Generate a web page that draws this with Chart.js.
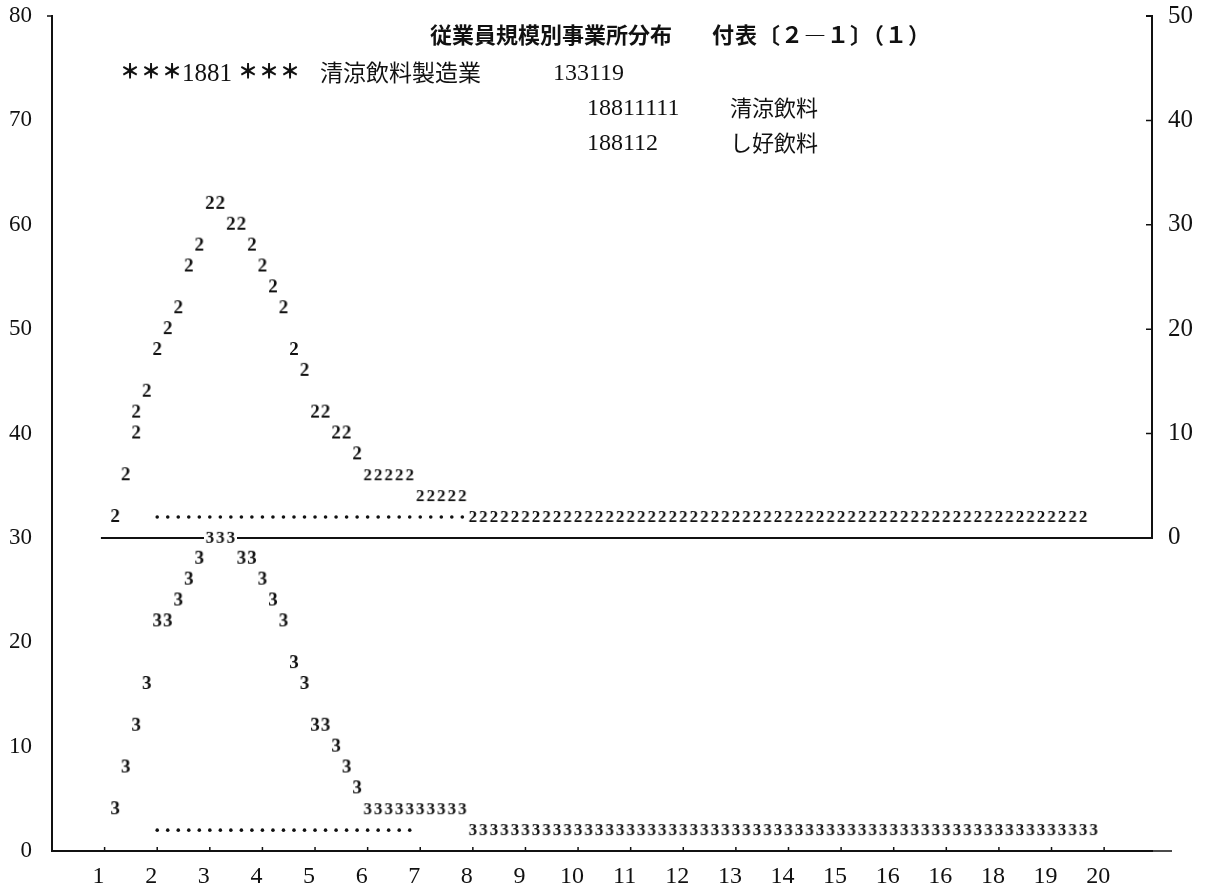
<!DOCTYPE html>
<html>
<head>
<meta charset="utf-8">
<script src="https://cdn.jsdelivr.net/npm/chart.js@4/dist/chart.umd.min.js"></script>
<style>
  html, body { margin: 0; padding: 0; background: #fff; }
  #wrap { position: relative; width: 1209px; height: 896px; overflow: hidden; }
  #c { position: absolute; left: 0; top: 0; }
  .t { position: absolute; white-space: nowrap; color: #111; line-height: 1; }
  .jp { font-family: "Noto Sans CJK JP", sans-serif; }
  .num { font-family: "Liberation Serif", serif; }
</style>
</head>
<body>
<div id="wrap">
  <canvas id="c" width="1209" height="896"></canvas>
  <div class="t jp" style="left:430px;top:22px;font-size:22px;font-weight:bold">従業員規模別事業所分布</div>
  <div class="t jp" style="left:712px;top:22px;font-size:22px;font-weight:bold;letter-spacing:1px">付表〔２―１〕（１）</div>
  <div class="t jp" style="left:120px;top:61px;font-size:20px;font-weight:900;letter-spacing:1px">＊＊＊</div>
  <div class="t num" style="left:182px;top:60px;font-size:25px">1881</div>
  <div class="t jp" style="left:238px;top:61px;font-size:20px;font-weight:900;letter-spacing:1px">＊＊＊</div>
  <div class="t jp" style="left:320px;top:60px;font-size:23px">清涼飲料製造業</div>
  <div class="t num" style="left:553px;top:60px;font-size:24px">133119</div>
  <div class="t num" style="left:587px;top:95px;font-size:24px">18811111</div>
  <div class="t jp" style="left:730px;top:95px;font-size:22px">清涼飲料</div>
  <div class="t num" style="left:587px;top:130px;font-size:24px">188112</div>
  <div class="t jp" style="left:730px;top:130px;font-size:22px">し好飲料</div>
</div>
<script>
// Size classes along the x axis (the seventeenth label is printed as "16")
const xTickLabels = ['1','2','3','4','5','6','7','8','9','10','11','12','13','14','15','16','16','18','19','20'];
const leftTicks = [0, 10, 20, 30, 40, 50, 60, 70, 80];
const rightTicks = [0, 10, 20, 30, 40, 50];

// Series "2" (upper curve), read on the right axis
const upperX = [1.2, 1.4, 1.6, 1.6, 1.8, 2.0, 2.2, 2.4, 2.6, 2.8, 3.0, 3.2, 3.4, 3.6, 3.8, 4.0, 4.2, 4.4, 4.6, 4.8,
                5.0, 5.2, 5.4, 5.6, 5.8, 6.0, 6.2, 6.4, 6.6, 6.8, 7.0, 7.2, 7.4, 7.6, 7.8];
const upperY = [2, 6, 10, 12, 14, 18, 20, 22, 26, 28, 32, 32, 30, 30, 28, 26, 24, 22, 18, 16,
                12, 12, 10, 10, 8, 6, 6, 6, 6, 6, 4, 4, 4, 4, 4];
const upperTailX = [8.0, 8.2, 8.4, 8.6, 8.8, 9.0, 9.2, 9.4, 9.6, 9.8, 10.0, 10.2, 10.4, 10.6, 10.8, 11.0, 11.2, 11.4, 11.6, 11.8,
                    12.0, 12.2, 12.4, 12.6, 12.8, 13.0, 13.2, 13.4, 13.6, 13.8, 14.0, 14.2, 14.4, 14.6, 14.8, 15.0, 15.2, 15.4, 15.6, 15.8,
                    16.0, 16.2, 16.4, 16.6, 16.8, 17.0, 17.2, 17.4, 17.6, 17.8, 18.0, 18.2, 18.4, 18.6, 18.8, 19.0, 19.2, 19.4, 19.6];
const upperTailY = [2, 2, 2, 2, 2, 2, 2, 2, 2, 2, 2, 2, 2, 2, 2, 2, 2, 2, 2, 2,
                    2, 2, 2, 2, 2, 2, 2, 2, 2, 2, 2, 2, 2, 2, 2, 2, 2, 2, 2, 2,
                    2, 2, 2, 2, 2, 2, 2, 2, 2, 2, 2, 2, 2, 2, 2, 2, 2, 2, 2];
const upperDotX = [2.0, 2.2, 2.4, 2.6, 2.8, 3.0, 3.2, 3.4, 3.6, 3.8, 4.0, 4.2, 4.4, 4.6, 4.8,
                   5.0, 5.2, 5.4, 5.6, 5.8, 6.0, 6.2, 6.4, 6.6, 6.8, 7.0, 7.2, 7.4, 7.6, 7.8];
const upperDotY = [2, 2, 2, 2, 2, 2, 2, 2, 2, 2, 2, 2, 2, 2, 2,
                   2, 2, 2, 2, 2, 2, 2, 2, 2, 2, 2, 2, 2, 2, 2];

// Series "3" (lower curve), read on the left axis
const lowerX = [1.2, 1.4, 1.6, 1.8, 2.0, 2.2, 2.4, 2.6, 2.8, 3.0, 3.2, 3.4, 3.6, 3.8, 4.0, 4.2, 4.4, 4.6, 4.8,
                5.0, 5.2, 5.4, 5.6, 5.8, 6.0, 6.2, 6.4, 6.6, 6.8, 7.0, 7.2, 7.4, 7.6, 7.8];
const lowerY = [4, 8, 12, 16, 22, 22, 24, 26, 28, 30, 30, 30, 28, 28, 26, 24, 22, 18, 16,
                12, 12, 10, 8, 6, 4, 4, 4, 4, 4, 4, 4, 4, 4, 4];
const lowerTailX = [8.0, 8.2, 8.4, 8.6, 8.8, 9.0, 9.2, 9.4, 9.6, 9.8, 10.0, 10.2, 10.4, 10.6, 10.8, 11.0, 11.2, 11.4, 11.6, 11.8,
                    12.0, 12.2, 12.4, 12.6, 12.8, 13.0, 13.2, 13.4, 13.6, 13.8, 14.0, 14.2, 14.4, 14.6, 14.8, 15.0, 15.2, 15.4, 15.6, 15.8,
                    16.0, 16.2, 16.4, 16.6, 16.8, 17.0, 17.2, 17.4, 17.6, 17.8, 18.0, 18.2, 18.4, 18.6, 18.8, 19.0, 19.2, 19.4, 19.6, 19.8];
const lowerTailY = [2, 2, 2, 2, 2, 2, 2, 2, 2, 2, 2, 2, 2, 2, 2, 2, 2, 2, 2, 2,
                    2, 2, 2, 2, 2, 2, 2, 2, 2, 2, 2, 2, 2, 2, 2, 2, 2, 2, 2, 2,
                    2, 2, 2, 2, 2, 2, 2, 2, 2, 2, 2, 2, 2, 2, 2, 2, 2, 2, 2, 2];
const lowerDotX = [2.0, 2.2, 2.4, 2.6, 2.8, 3.0, 3.2, 3.4, 3.6, 3.8, 4.0, 4.2, 4.4, 4.6, 4.8,
                   5.0, 5.2, 5.4, 5.6, 5.8, 6.0, 6.2, 6.4, 6.6, 6.8];
const lowerDotY = [2, 2, 2, 2, 2, 2, 2, 2, 2, 2, 2, 2, 2, 2, 2,
                   2, 2, 2, 2, 2, 2, 2, 2, 2, 2];

const INK = '#111';

// Printer-style character used as a point marker
function glyph(ch, weight, size) {
  const c = document.createElement('canvas');
  c.width = 12; c.height = 18;
  const g = c.getContext('2d');
  g.fillStyle = '#fff';
  g.fillRect(0, 0, c.width, c.height);
  g.fillStyle = INK;
  g.font = weight + ' ' + size + 'px "Liberation Serif"';
  g.textAlign = 'center';
  g.textBaseline = 'middle';
  g.fillText(ch, 6, 9.5);
  return c;
}
const two = glyph('2', 'bold', 19), twoRun = glyph('2', 'bold', 17);
const three = glyph('3', 'bold', 19), threeRun = glyph('3', 'bold', 17);

// horizontal runs of characters (from 6 upward, and the peak row of "3") print slightly smaller
const twoStyle = c => (c.raw && c.raw.x >= 6 ? twoRun : two);
const threeStyle = c => (c.raw && (c.raw.x >= 6 || c.raw.y === 30) ? threeRun : three);

const pts = (xs, ys) => xs.map((x, i) => ({ x: x, y: ys[i] }));

// y axes: keep the plot frame tight to the canvas edge (labels may overhang)
const fitY = w => s => { s.width = w; s.paddingTop = 0; s.paddingBottom = 0; };

// Axis frame pieces: zero line of the right axis, right axis segment, inward ticks
const framePlugin = {
  id: 'frame',
  beforeDatasetsDraw(chart) {
    const { ctx, scales: { x, y, yR } } = chart;
    ctx.save();
    ctx.strokeStyle = INK;
    ctx.lineWidth = 2;
    const r0 = yR.getPixelForValue(0);
    const rTop = yR.getPixelForValue(50);
    ctx.beginPath();
    ctx.moveTo(x.getPixelForValue(0.93), r0);
    ctx.lineTo(x.right, r0);
    ctx.lineTo(x.right, rTop);
    ctx.lineTo(x.right - 6, rTop);
    ctx.stroke();
    ctx.lineWidth = 1.5;
    ctx.beginPath();
    rightTicks.forEach(v => {
      if (v > 0 && v < 50) {
        const p = yR.getPixelForValue(v);
        ctx.moveTo(x.right - 6, p); ctx.lineTo(x.right, p);
      }
    });
    // x axis continues a little past the right axis
    ctx.moveTo(x.right, y.bottom); ctx.lineTo(x.right + 20, y.bottom);
    xTickLabels.forEach((_, i) => {
      const p = x.getPixelForValue(i + 1);
      ctx.moveTo(p, y.bottom); ctx.lineTo(p, y.bottom - 4);
    });
    // short cap at the top of the left axis
    ctx.moveTo(x.left, y.top); ctx.lineTo(x.left - 5, y.top);
    ctx.stroke();
    ctx.restore();
  }
};

new Chart(document.getElementById('c'), {
  type: 'scatter',
  data: {
    datasets: [
      { data: pts(upperX, upperY), yAxisID: 'yR', pointStyle: twoStyle, pointRadius: 5 },
      { data: pts(upperTailX, upperTailY), yAxisID: 'yR', pointStyle: twoRun, pointRadius: 5 },
      { data: pts(upperDotX, upperDotY), yAxisID: 'yR', pointStyle: 'circle', pointRadius: 1.8, backgroundColor: INK, borderWidth: 0 },
      { data: pts(lowerX, lowerY), yAxisID: 'y', pointStyle: threeStyle, pointRadius: 5 },
      { data: pts(lowerTailX, lowerTailY), yAxisID: 'y', pointStyle: threeRun, pointRadius: 5 },
      { data: pts(lowerDotX, lowerDotY), yAxisID: 'y', pointStyle: 'circle', pointRadius: 1.8, backgroundColor: INK, borderWidth: 0 }
    ]
  },
  options: {
    responsive: false,
    animation: false,
    events: [],
    layout: { padding: { top: 16, left: 0, right: 0, bottom: 0 } },
    plugins: { legend: { display: false }, tooltip: { enabled: false }, title: { display: false } },
    scales: {
      x: {
        type: 'linear', min: 0, max: 20.91,
        afterBuildTicks: s => { s.ticks = xTickLabels.map((_, i) => ({ value: i + 1 })); },
        afterFit: s => { s.height = 45; s.paddingLeft = 0; s.paddingRight = 0; },
        border: { display: true, color: INK, width: 2 },
        grid: { display: false, drawTicks: false },
        ticks: {
          callback: v => xTickLabels[v - 1],
          color: INK, padding: 11, labelOffset: -6, maxRotation: 0, autoSkip: false,
          font: { family: '"Liberation Serif"', size: 24 }
        }
      },
      y: {
        position: 'left', min: 0, max: 80,
        afterBuildTicks: s => { s.ticks = leftTicks.map(v => ({ value: v })); },
        afterFit: fitY(52),
        border: { display: true, color: INK, width: 2 },
        grid: { display: false, drawTicks: false },
        ticks: { color: INK, padding: 20, font: { family: '"Liberation Serif"', size: 23 } }
      },
      yR: {
        position: 'right', min: -30, max: 50,
        afterBuildTicks: s => { s.ticks = rightTicks.map(v => ({ value: v })); },
        afterFit: fitY(57),
        border: { display: false },
        grid: { display: false, drawTicks: false },
        ticks: { color: INK, padding: 16, font: { family: '"Liberation Serif"', size: 25 } }
      }
    }
  },
  plugins: [framePlugin]
});
</script>
</body>
</html>
